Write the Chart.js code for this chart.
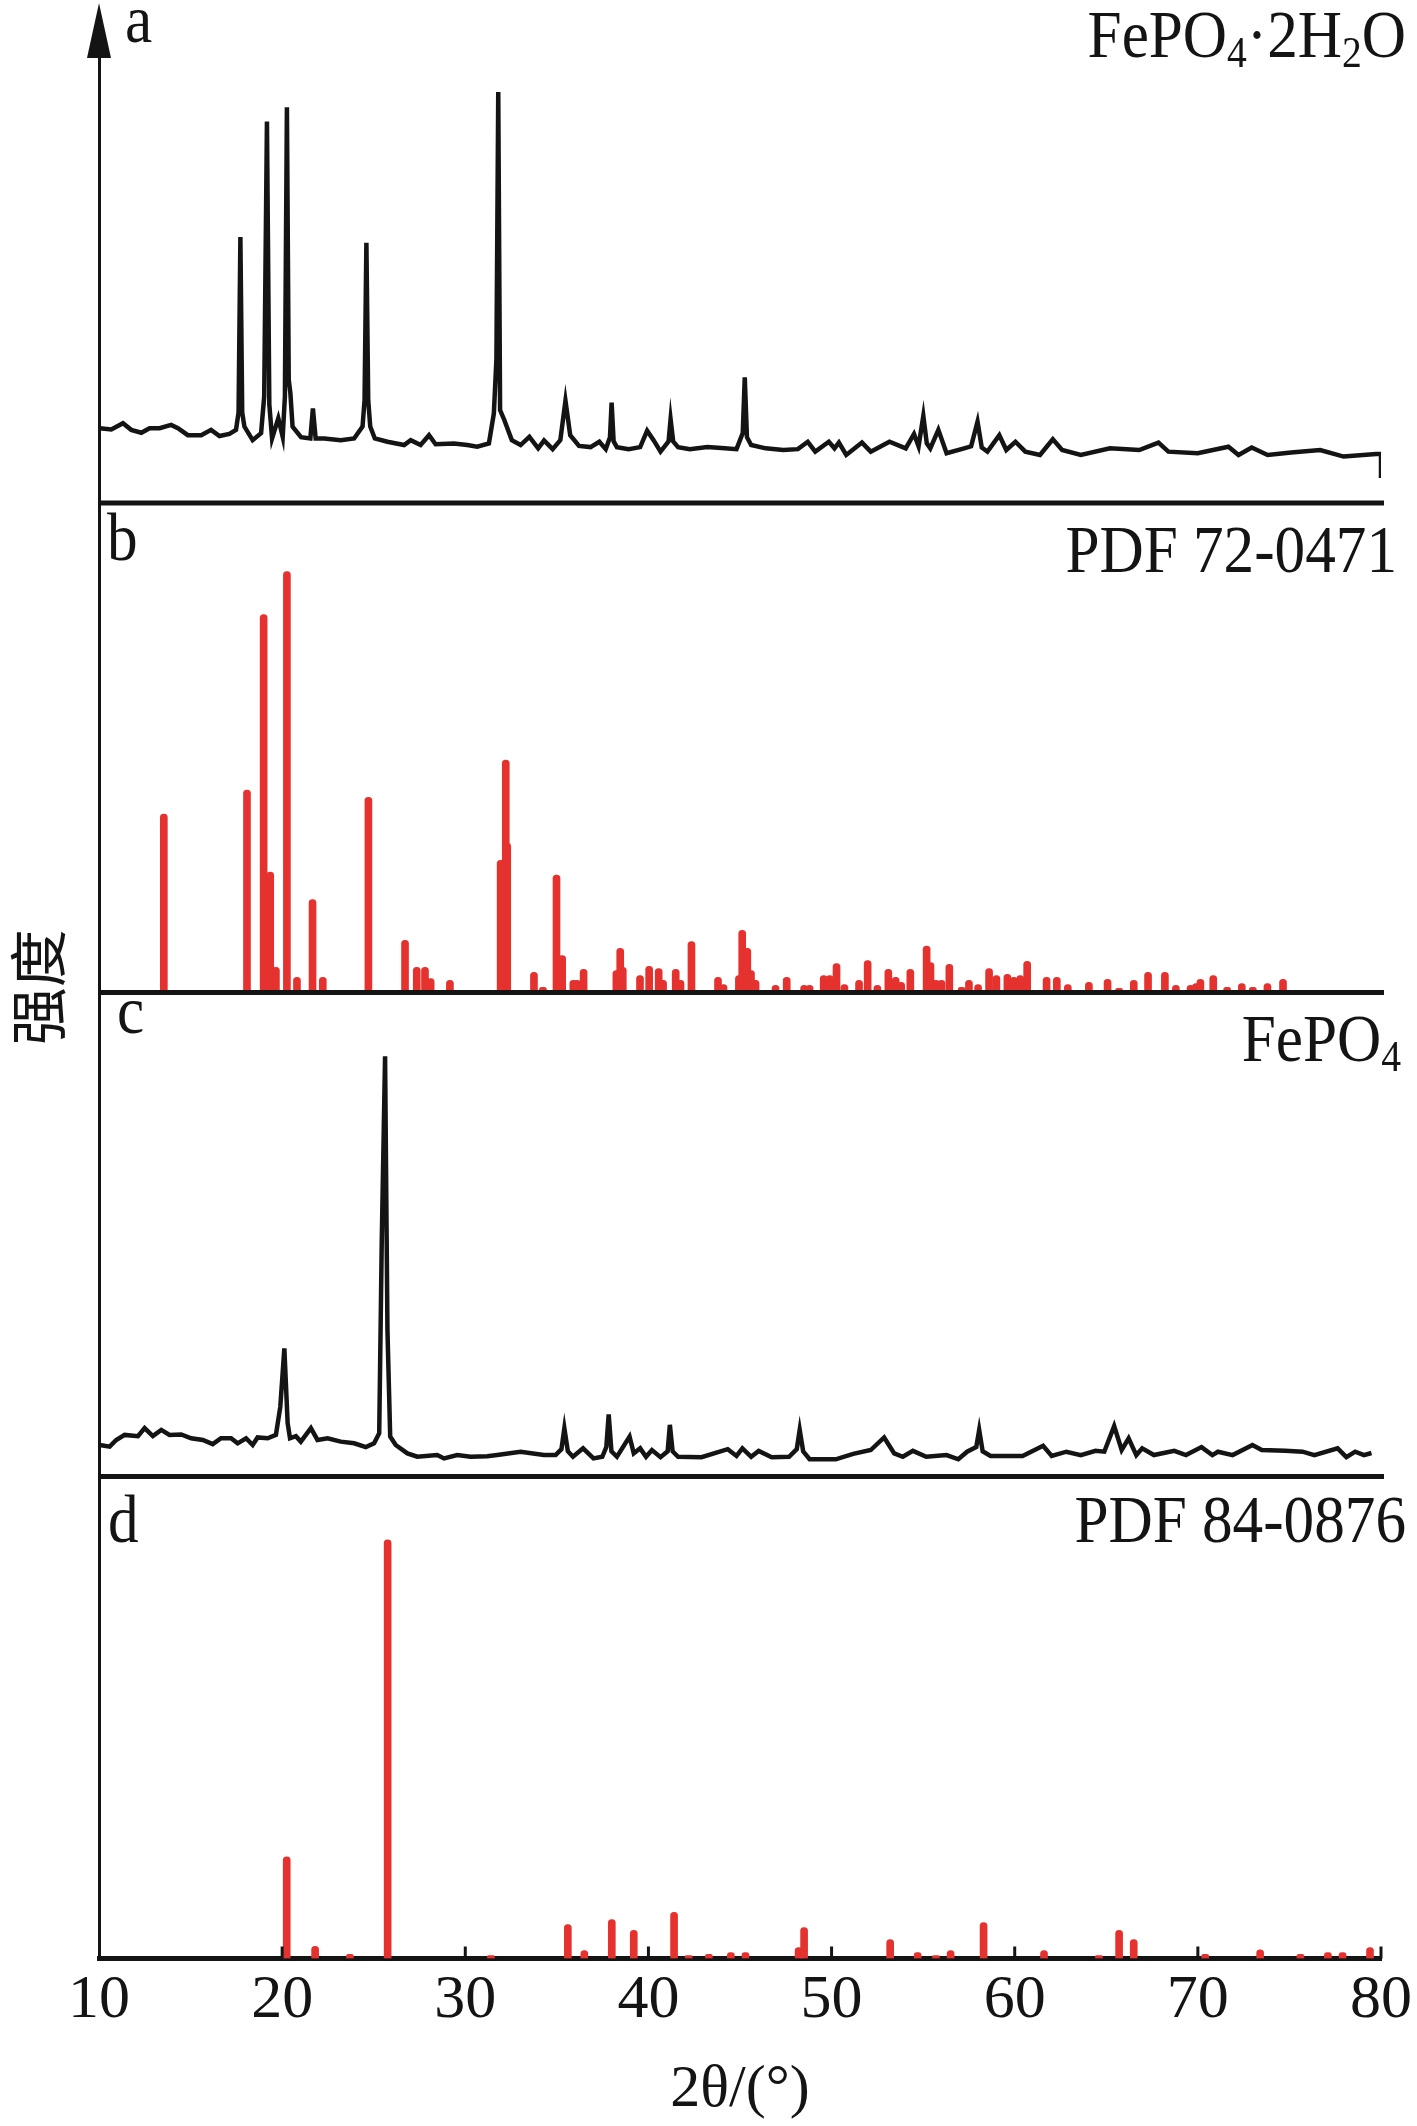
<!DOCTYPE html>
<html><head><meta charset="utf-8">
<script src="https://cdn.jsdelivr.net/npm/chart.js@4.4.1/dist/chart.umd.min.js"></script>
<style>html,body{margin:0;padding:0;background:#fff;}canvas{display:block;}</style>
</head><body>
<canvas id="c" width="1417" height="2126"></canvas>
<script>
// ---------- data ----------
const xTickStep = 10;
const xMin = 10, xMax = 80;

// a: FePO4·2H2O measured pattern (relative intensity)
const aTheta = [10.04,10.67,11.31,11.76,12.31,12.76,13.31,13.94,14.31,14.85,15.58,16.12,16.58,17.12,17.48,17.62,17.72,17.82,17.94,18.39,18.85,19.02,19.17,19.30,19.45,19.79,20.03,20.15,20.26,20.36,20.45,20.57,21.03,21.54,21.68,21.83,22.30,23.20,23.93,24.39,24.50,24.60,24.70,24.81,25.06,25.75,26.66,27.02,27.56,28.02,28.38,29.38,30.11,30.65,31.29,31.56,31.70,31.80,31.90,32.13,32.54,33.02,33.50,33.98,34.30,34.77,35.19,35.47,35.73,36.21,36.84,37.32,37.67,37.90,37.99,38.10,38.28,38.92,39.55,39.93,40.28,40.66,41.10,41.21,41.35,41.62,42.26,43.22,44.17,44.81,45.15,45.26,45.38,45.61,46.40,47.36,48.16,48.70,49.11,49.85,50.16,50.40,50.80,51.66,52.14,53.16,54.05,54.50,54.75,55.01,55.20,55.39,55.83,56.28,57.24,57.62,57.97,58.20,58.51,59.16,59.54,60.04,60.58,61.38,62.08,62.59,63.61,65.20,66.80,67.85,68.39,69.99,71.67,72.22,72.94,73.81,75.09,76.68,77.96,79.74,80.00,80.00];
const aInt   = [18.2,17.9,19.4,17.8,17.1,18.2,18.2,19.0,18.2,16.5,16.5,17.8,16.3,16.8,17.8,22.0,64.7,22.0,18.6,15.3,17.0,25.9,92.8,24.0,15.7,20.6,16.1,25.9,96.3,30.0,26.7,18.6,16.0,15.7,23.0,15.7,15.7,15.3,15.7,18.6,25.0,63.3,25.0,18.6,15.7,14.9,14.1,15.3,14.1,16.5,14.3,14.5,14.1,13.7,14.5,21.8,35.0,100,22.6,20.2,15.3,14.1,16.1,13.3,15.2,13.1,15.3,24.9,16.5,13.9,13.6,14.9,13.1,16.0,24.4,15.0,13.6,13.1,13.6,17.6,15.3,12.5,15.0,20.4,15.0,13.6,13.1,13.6,13.3,13.1,17.0,30.6,16.0,14.1,13.3,12.9,13.1,14.9,12.5,14.9,13.3,14.7,11.7,14.7,12.5,14.9,13.3,16.8,13.8,21.2,14.5,13.3,17.8,12.1,13.3,13.8,19.8,13.5,12.5,16.5,12.9,14.9,12.5,11.7,15.5,12.9,11.7,13.3,12.9,14.7,12.5,12.1,13.7,11.7,13.5,11.7,12.3,12.9,11.3,11.9,11.9,6.1];

// b: PDF 72-0471 reference lines
const bTheta = [13.54,18.08,18.99,19.35,19.66,20.26,20.81,21.66,22.22,24.71,26.71,27.35,27.80,28.11,29.16,31.93,32.21,32.29,33.75,34.24,34.98,35.29,35.90,36.10,36.46,38.25,38.46,38.60,39.54,40.04,40.56,40.80,41.49,41.75,42.35,43.80,44.10,44.94,45.12,45.40,45.60,45.85,46.94,47.55,48.50,48.80,49.57,49.90,50.27,50.70,51.50,51.97,52.50,53.10,53.50,53.80,54.30,55.19,55.40,55.70,56.00,56.43,57.10,57.50,58.00,58.60,59.00,59.60,59.95,60.30,60.68,61.74,62.30,62.90,64.05,65.07,65.70,66.50,67.28,68.20,68.80,69.60,69.90,70.14,70.84,71.60,72.40,73.00,73.80,74.65];
const bInt   = [42.4,48.1,89.8,28.6,6.0,100,3.6,22.1,3.6,46.4,12.4,6.0,6.0,3.3,2.9,31.4,55.2,35.5,4.8,1.2,27.9,8.8,2.9,2.9,5.5,5.2,10.5,6.0,4.0,6.2,5.7,2.9,5.5,2.9,12.1,3.6,1.9,4.0,14.8,10.5,5.2,2.9,1.7,3.6,1.7,1.7,4.0,4.0,6.9,1.9,2.9,7.6,1.7,5.5,3.6,2.4,5.5,11.0,7.1,2.9,2.9,6.7,1.2,2.9,1.9,5.7,4.0,4.3,3.6,4.0,7.4,3.6,3.6,1.9,2.4,3.1,1.0,2.9,4.8,4.8,1.7,1.7,2.1,3.1,4.0,1.2,2.1,1.2,2.1,3.1];

// c: FePO4 measured pattern
const cTheta = [10.04,10.58,10.94,11.40,12.13,12.49,12.94,13.40,13.85,14.49,15.03,15.67,16.21,16.66,17.21,17.57,18.03,18.39,18.66,19.21,19.66,19.90,20.12,20.30,20.43,20.75,21.02,21.57,21.93,22.48,23.20,23.93,24.57,25.02,25.30,25.44,25.62,25.75,25.90,26.20,26.84,27.38,28.47,28.84,29.56,30.29,31.20,31.74,33.02,34.29,34.93,35.25,35.41,35.60,35.88,36.43,37.00,37.48,37.70,37.83,37.98,38.28,38.97,39.20,39.55,39.87,40.19,40.66,41.05,41.17,41.32,41.62,42.90,44.33,44.81,45.13,45.61,46.02,46.73,47.68,48.10,48.26,48.45,48.80,50.23,51.18,52.14,52.87,53.42,53.89,54.44,55.17,56.28,56.92,57.40,57.90,58.06,58.25,58.68,60.43,61.55,62.02,62.82,63.61,64.41,64.89,65.43,65.84,66.22,66.64,66.96,67.60,68.71,69.35,70.20,70.79,71.10,71.90,72.98,73.49,74.77,75.72,76.36,77.63,78.11,78.59,79.07,79.48];
const cInt   = [7.5,7.1,8.7,9.9,9.6,11.5,9.6,11.1,9.9,10.0,9.1,8.7,7.7,9.1,9.1,7.9,9.1,7.5,9.3,9.1,9.9,16.6,30.5,12.7,9.1,9.6,8.3,11.5,8.7,9.1,8.3,7.9,7.0,7.9,10.3,56.3,100,34.9,9.5,7.5,5.5,4.7,5.1,4.3,5.1,4.7,4.8,5.1,5.9,5.1,5.1,6.5,11.5,6.0,4.7,6.7,4.3,4.7,7.0,14.8,6.0,4.7,9.5,5.5,6.7,4.7,6.3,4.6,6.0,12.3,6.0,4.7,4.6,6.5,4.9,6.7,4.7,6.1,4.6,4.7,6.5,11.1,6.0,4.1,4.1,5.4,6.3,9.3,5.5,4.7,6.1,4.7,5.1,4.1,5.9,7.0,11.1,6.0,4.9,4.9,7.3,4.9,5.9,5.1,6.1,5.9,12.0,6.3,9.1,5.1,6.7,5.1,6.1,5.1,7.0,5.1,5.9,5.1,7.5,6.3,6.1,5.9,5.1,6.7,4.6,5.9,5.1,5.6];

// d: PDF 84-0876 reference lines
const dTheta = [20.25,21.80,23.70,25.76,31.40,35.60,36.50,38.00,39.20,41.40,42.20,43.30,44.50,45.30,48.20,48.50,53.20,54.70,55.70,56.50,58.30,61.60,64.60,65.70,66.50,70.40,73.40,75.60,77.10,77.90,79.40];
const dInt   = [24.3,2.9,1.0,100,0.7,8.1,1.9,9.3,6.7,11.0,0.7,1.0,1.4,1.4,2.6,7.4,4.5,1.4,0.7,1.9,8.6,1.9,0.7,6.7,4.5,1.0,2.1,1.0,1.4,1.4,2.6];

// panel texts
const panelLetters = ['a','b','c','d'];
const panelNames = [
  [['FePO',0],['4',1],['·2H',0],['2',1],['O',0]],
  [['PDF 72-0471',0]],
  [['FePO',0],['4',1]],
  [['PDF 84-0876',0]]
];
const yTitle = '强度';
const xTitle = '2θ/(°)';

// ---------- styling ----------
const SERIF = "'Liberation Serif', 'Times New Roman', serif";
const BLACK = '#141414';
const RED = '#e5322f';
const panelAxes = ['ya','yb','yc','yd'];
const panelMax = {ya:118.5, yb:116.3, yc:115.2, yd:115.1};
const panelWeight = {ya:487, yb:489.5, yc:484, yd:482};
const letterPos = [[26,26],[8,57],[18,40],[9,65]];   // [dx from left, dy from panel top]
const namePos = [[25,41],[16,69],[20,68],[25,65]];    // [dx from right, dy from panel top]

const pts = (xs, ys) => xs.map((x, i) => ({x, y: ys[i]}));

function yAxis(id) {
  return {
    type: 'linear', position: 'left', stack: 'xrd', stackWeight: panelWeight[id],
    min: 0, max: panelMax[id], offset: false,
    grid: {display: false, drawTicks: false},
    ticks: {display: false},
    border: {display: true, width: 3, color: BLACK},
    afterFit: s => { s.width = 0; }
  };
}

function drawRich(ctx, parts, x, y, align, size, sx) {
  const subSize = Math.round(size * 0.64);
  let total = 0;
  const widths = parts.map(([t, sub]) => {
    ctx.font = (sub ? subSize : size) + 'px ' + SERIF;
    const w = ctx.measureText(t).width * sx;
    total += w;
    return w;
  });
  let cx = align === 'right' ? x - total : x;
  parts.forEach(([t, sub], i) => {
    ctx.save();
    ctx.font = (sub ? subSize : size) + 'px ' + SERIF;
    ctx.textBaseline = 'alphabetic';
    ctx.textAlign = 'left';
    ctx.translate(cx, y + (sub ? size * 0.15 : 0));
    ctx.scale(sx, 1);
    ctx.fillText(t, 0, 0);
    ctx.restore();
    cx += widths[i];
  });
}

const decor = {
  id: 'decor',
  afterDatasetsDraw(chart) {
    const {ctx, chartArea: ca, scales} = chart;
    ctx.save();
    ctx.strokeStyle = BLACK;
    ctx.fillStyle = BLACK;
    // panel separators
    ctx.lineWidth = 5;
    ['ya', 'yb', 'yc'].forEach(id => {
      const y = scales[id].bottom;
      ctx.beginPath(); ctx.moveTo(ca.left, y); ctx.lineTo(ca.right + 3, y); ctx.stroke();
    });
    // inward ticks on x axis
    const xs = scales.x;
    ctx.lineWidth = 3;
    xs.ticks.forEach(t => {
      if (t.value === xs.min) return;
      const px = xs.getPixelForValue(t.value);
      ctx.beginPath(); ctx.moveTo(px, ca.bottom); ctx.lineTo(px, ca.bottom - 12); ctx.stroke();
    });
    // arrow on y axis
    const ax = ca.left;
    ctx.beginPath();
    ctx.moveTo(ax, ca.top - 13);
    ctx.lineTo(ax - 12, ca.top + 42);
    ctx.lineTo(ax + 12, ca.top + 42);
    ctx.closePath(); ctx.fill();
    // panel labels
    panelAxes.forEach((id, i) => {
      const top = scales[id].top;
      drawRich(ctx, [[panelLetters[i], 0]], ca.left + letterPos[i][0], top + letterPos[i][1], 'left', 68, 0.9);
      drawRich(ctx, panelNames[i], ca.right + namePos[i][0], top + namePos[i][1], 'right', 68, 0.9);
    });
    // y title
    ctx.save();
    ctx.translate(38, (ca.top + ca.bottom) / 2);
    ctx.rotate(-Math.PI / 2);
    ctx.font = "58px 'Noto Sans CJK SC', sans-serif";
    ctx.textAlign = 'center';
    ctx.textBaseline = 'middle';
    ctx.fillText(yTitle, 0, 0);
    ctx.restore();
    ctx.restore();
  }
};

new Chart(document.getElementById('c'), {
  type: 'line',
  data: {
    datasets: [
      {type: 'line', label: 'FePO4·2H2O', data: pts(aTheta, aInt), yAxisID: 'ya',
       borderColor: BLACK, borderWidth: 4.5, pointRadius: 0, tension: 0, fill: false},
      {type: 'bar', label: 'PDF 72-0471', data: pts(bTheta, bInt), yAxisID: 'yb',
       backgroundColor: RED, barThickness: 7, grouped: false, borderWidth: 0,
       borderRadius: {topLeft: 3.5, topRight: 3.5, bottomLeft: 0, bottomRight: 0}},
      {type: 'line', label: 'FePO4', data: pts(cTheta, cInt), yAxisID: 'yc',
       borderColor: BLACK, borderWidth: 4.5, pointRadius: 0, tension: 0, fill: false},
      {type: 'bar', label: 'PDF 84-0876', data: pts(dTheta, dInt), yAxisID: 'yd',
       backgroundColor: RED, barThickness: 7, grouped: false, borderWidth: 0,
       borderRadius: {topLeft: 3.5, topRight: 3.5, bottomLeft: 0, bottomRight: 0}}
    ]
  },
  options: {
    responsive: false,
    animation: false,
    devicePixelRatio: 1,
    events: [],
    layout: {padding: {left: 99, right: 32, top: 16, bottom: 0}},
    plugins: {legend: {display: false}, tooltip: {enabled: false}},
    scales: {
      x: {
        type: 'linear', position: 'bottom', min: xMin, max: xMax, offset: false,
        grid: {display: false, drawTicks: false, offset: false},
        border: {display: true, width: 5, color: BLACK},
        ticks: {stepSize: xTickStep, color: BLACK, padding: 5, maxRotation: 0,
                font: {family: SERIF, size: 62}},
        title: {display: true, text: xTitle, color: BLACK, padding: {top: 0, bottom: 0},
                font: {family: SERIF, size: 60}},
        afterFit: s => { s.height = 167.5; }
      },
      yd: yAxis('yd'),
      yc: yAxis('yc'),
      yb: yAxis('yb'),
      ya: yAxis('ya')
    }
  },
  plugins: [decor]
});
</script>
</body></html>
